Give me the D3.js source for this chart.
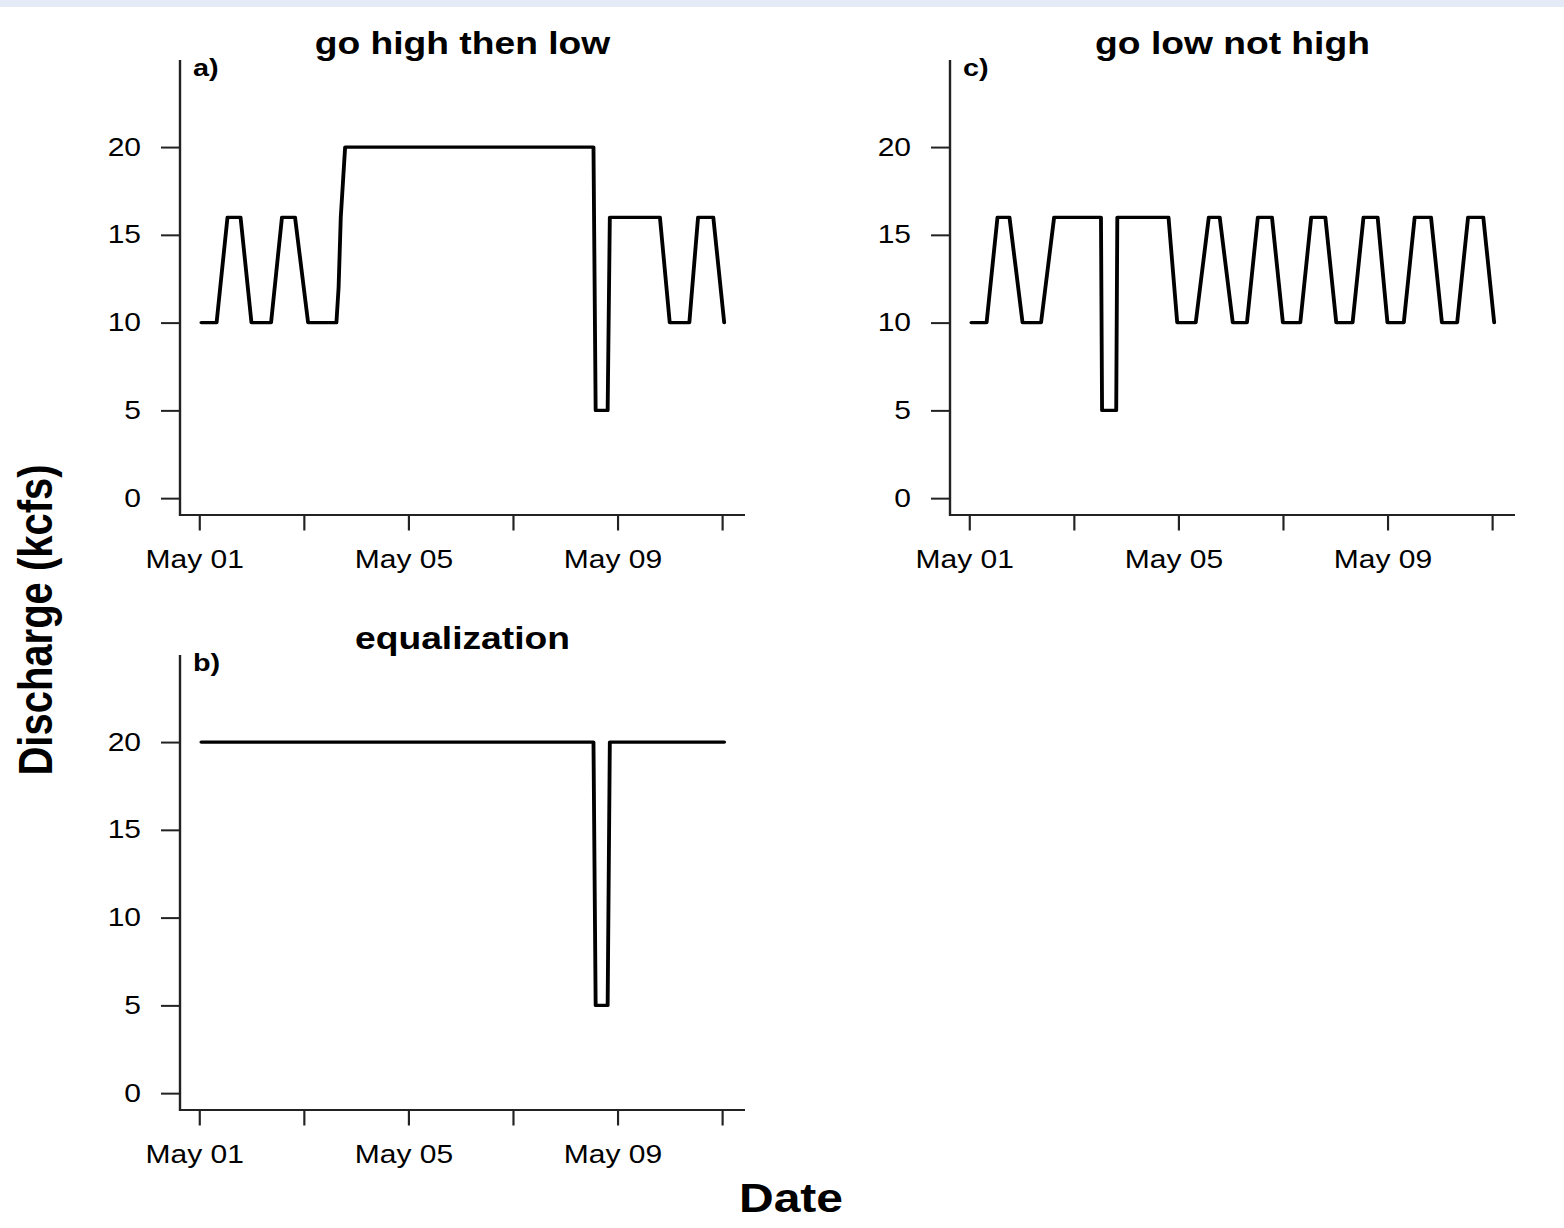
<!DOCTYPE html>
<html>
<head>
<meta charset="utf-8">
<script src="https://cdn.jsdelivr.net/npm/d3@7"></script>
<style>
  body { margin: 0; background: #fff; }
  text { font-family: "Liberation Sans", Arial, sans-serif; fill: #000; }
</style>
</head>
<body>
<div id="chart"></div>
<script>
// hours after May 01 00:00 and discharge (kcfs) at each corner of the trace
var hoursA = [1, 8, 13, 19, 24, 33, 38, 44, 50, 63, 64, 65, 66, 67, 181, 182, 187.5, 188.5, 211.5, 216, 225, 229, 236, 241];
var flowA  = [10, 10, 16, 16, 10, 10, 16, 16, 10, 10, 12, 16, 18, 20, 20, 5, 5, 16, 16, 10, 10, 16, 16, 10];

var hoursB = [1, 181, 182, 187.5, 188.5, 241];
var flowB  = [20, 20, 5, 5, 20, 20];

var hoursC = [1, 8, 13, 18.5, 24.5, 33, 39, 60.5, 61, 67.5, 68, 91.5, 95.5, 104, 110, 115, 121, 127.5,
              132.5, 139, 144, 152, 157, 163.5, 168.5, 176, 181, 187.5, 192, 199.5, 204.5, 212, 217, 224, 229, 236, 241];
var flowC  = [10, 10, 16, 16, 10, 10, 16, 16, 5, 5, 16, 16, 10, 10, 16, 16, 10, 10,
              16, 16, 10, 10, 16, 16, 10, 10, 16, 16, 10, 10, 16, 16, 10, 10, 16, 16, 10];

var tickDays   = ["2000-05-01", "2000-05-03", "2000-05-05", "2000-05-07", "2000-05-09", "2000-05-11"];
var tickLabels = ["May 01", "", "May 05", "", "May 09", ""];
var yTicks = [0, 5, 10, 15, 20];

// the reference image is stretched sideways, so draw in a narrower viewBox
var SX = 1.2;
var svgWidth = 1564;
var svgHeight = 1228;
var px = function(v) { return v / SX; };

var svg = d3.select("#chart")
  .append("svg")
  .attr("width", svgWidth)
  .attr("height", svgHeight)
  .attr("viewBox", `0 0 ${svgWidth / SX} ${svgHeight}`)
  .attr("preserveAspectRatio", "none");

svg.append("rect")
  .attr("width", svgWidth / SX)
  .attr("height", 7)
  .attr("fill", "#e4ebf6");

var start = new Date(Date.UTC(2000, 4, 1));
var atHour = h => new Date(start.getTime() + h * 3600e3);
var tickDates = tickDays.map(d => d3.utcParse("%Y-%m-%d")(d));

var panels = [
  { title: "go high then low", letter: "a)", hours: hoursA, flow: flowA, left: 180, top: 60 },
  { title: "equalization",     letter: "b)", hours: hoursB, flow: flowB, left: 180, top: 655 },
  { title: "go low not high",  letter: "c)", hours: hoursC, flow: flowC, left: 950, top: 60 }
];

var plotW = 565;
var plotH = 455;

panels.forEach(function(p) {
  var x = d3.scaleUtc()
    .domain([atHour(-8.8), atHour(250.55)])
    .range([px(p.left), px(p.left + plotW)]);

  var y = d3.scaleLinear()
    .domain([-0.96, 24.96])
    .range([p.top + plotH, p.top]);

  var g = svg.append("g");

  // x axis
  var xAxis = g.append("g")
    .attr("transform", `translate(0, ${p.top + plotH})`)
    .call(d3.axisBottom(x)
      .tickValues(tickDates)
      .tickFormat((d, i) => tickLabels[i])
      .tickSize(15.5)
      .tickPadding(20));
  xAxis.select(".domain").remove();
  xAxis.selectAll("line").attr("stroke", "#222").attr("stroke-width", 1.8);
  xAxis.selectAll("text")
    .attr("dx", px(-5))
    .attr("font-size", 25)
    .attr("font-family", "Liberation Sans, Arial, sans-serif")
    .attr("fill", "#000");

  // y axis
  var yAxis = g.append("g")
    .attr("transform", `translate(${px(p.left)}, 0)`)
    .call(d3.axisLeft(y)
      .tickValues(yTicks)
      .tickSize(px(19))
      .tickPadding(px(20)));
  yAxis.select(".domain").remove();
  yAxis.selectAll("line").attr("stroke", "#222").attr("stroke-width", 2);
  yAxis.selectAll("text")
    .attr("font-size", 25)
    .attr("font-family", "Liberation Sans, Arial, sans-serif")
    .attr("fill", "#000");

  // L-shaped box
  g.append("path")
    .attr("d", `M${px(p.left)},${p.top} V${p.top + plotH} H${px(p.left + plotW)}`)
    .attr("fill", "none")
    .attr("stroke", "#222")
    .attr("stroke-width", 2);

  // trace
  var line = d3.line()
    .x(d => x(atHour(d[0])))
    .y(d => y(d[1]));

  g.append("path")
    .datum(d3.zip(p.hours, p.flow))
    .attr("d", line)
    .attr("fill", "none")
    .attr("stroke", "#000")
    .attr("stroke-width", 3.2)
    .attr("stroke-linejoin", "round")
    .attr("stroke-linecap", "round");

  g.append("text")
    .attr("x", px(p.left + plotW / 2))
    .attr("y", p.top - 6)
    .attr("text-anchor", "middle")
    .attr("font-size", 31)
    .attr("font-weight", "bold")
    .text(p.title);

  g.append("text")
    .attr("x", px(p.left + 13))
    .attr("y", p.top + 16)
    .attr("font-size", 24)
    .attr("font-weight", "bold")
    .text(p.letter);
});

// axis titles
svg.append("text")
  .attr("transform", `translate(${px(52)}, 620) rotate(-90)`)
  .attr("text-anchor", "middle")
  .attr("font-size", 40)
  .attr("font-weight", "bold")
  .text("Discharge (kcfs)");

svg.append("text")
  .attr("x", px(791))
  .attr("y", 1212)
  .attr("text-anchor", "middle")
  .attr("font-size", 40)
  .attr("font-weight", "bold")
  .text("Date");
</script>
</body>
</html>
